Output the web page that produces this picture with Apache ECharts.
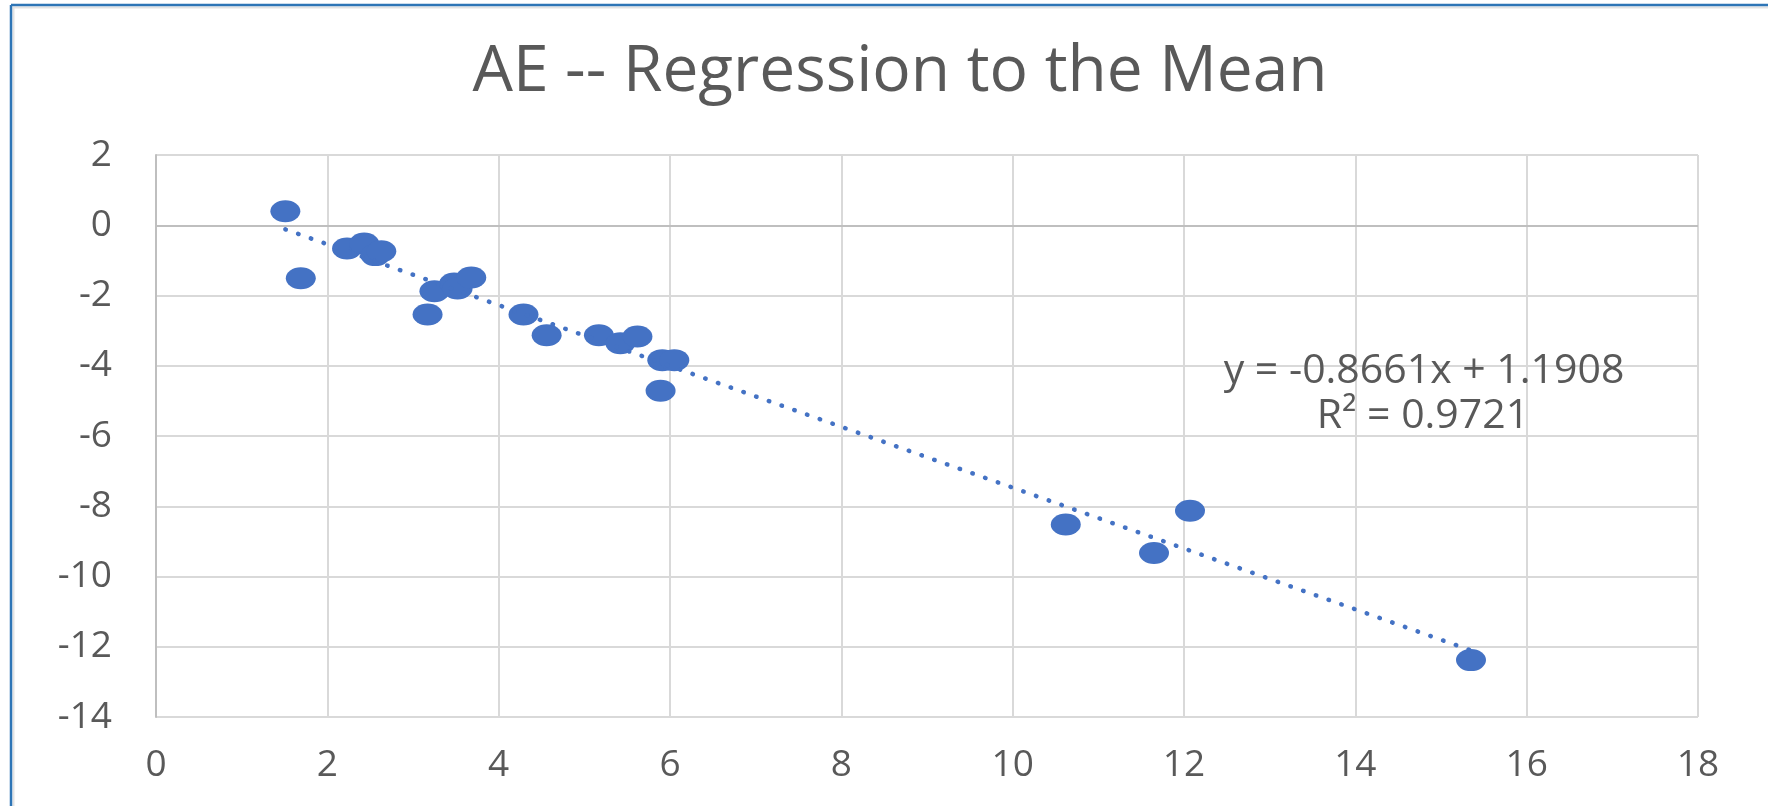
<!DOCTYPE html>
<html>
<head>
<meta charset="utf-8">
<script src="https://cdn.jsdelivr.net/npm/echarts@6/dist/echarts.min.js"></script>
<style>
html,body{margin:0;padding:0;background:#fff;}
#chart{width:1768px;height:806px;}
</style>
</head>
<body>
<div id="chart"></div>
<script>
// ---- data ----
const titleText = 'AE -- Regression to the Mean';
const xValues = [1.51, 1.69, 2.23, 2.43, 2.56, 2.63, 3.17, 3.25, 3.48, 3.52, 3.68, 4.29, 4.56, 5.17, 5.42, 5.62, 5.89, 5.91, 6.05, 10.62, 11.65, 12.07, 15.35];
const yValues = [0.40, -1.51, -0.66, -0.52, -0.85, -0.74, -2.54, -1.88, -1.66, -1.80, -1.49, -2.54, -3.13, -3.13, -3.36, -3.17, -4.71, -3.84, -3.84, -8.52, -9.33, -8.13, -12.38];
const trendSlope = -0.8661;
const trendIntercept = 1.1908;
const rSquared = 0.9721;
const xTicks = [0, 2, 4, 6, 8, 10, 12, 14, 16, 18];
const yTicks = [-14, -12, -10, -8, -6, -4, -2, 0, 2];

// ---- build ----
const points = xValues.map((x, i) => [x, yValues[i]]);
const xMin = Math.min(...xValues), xMax = Math.max(...xValues);
const trend = [[xMin, trendSlope * xMin + trendIntercept], [xMax, trendSlope * xMax + trendIntercept]];
const eqLine1 = 'y = ' + trendSlope.toFixed(4) + 'x + ' + trendIntercept.toFixed(4);
const eqLine2 = 'R² = ' + rSquared.toFixed(4);

const textColor = '#595959';
const font = '"Open Sans", "Noto Sans", sans-serif';
const blue = '#4472c4';

const chart = echarts.init(document.getElementById('chart'), null, {renderer: 'canvas'});
chart.setOption({
  backgroundColor: '#ffffff',
  animation: false,
  title: {
    text: titleText,
    left: 895,
    top: 36,
    textAlign: 'center',
    textStyle: {color: textColor, fontFamily: font, fontSize: 64, fontWeight: 'normal'}
  },
  grid: {left: 156, right: 70, top: 155, bottom: 89, containLabel: false},
  xAxis: {
    type: 'value',
    min: xTicks[0], max: xTicks[xTicks.length - 1], interval: 2,
    axisLine: {show: false, onZero: false},
    axisTick: {show: false},
    splitLine: {show: true, lineStyle: {color: '#d9d9d9', width: 2}},
    axisLabel: {color: textColor, fontFamily: font, fontSize: 37, margin: 30}
  },
  yAxis: {
    type: 'value',
    min: yTicks[0], max: yTicks[yTicks.length - 1], interval: 2,
    axisLine: {show: true, onZero: false, lineStyle: {color: '#bfbfbf', width: 2}},
    axisTick: {show: false},
    splitLine: {show: true, lineStyle: {color: '#d9d9d9', width: 2}},
    axisLabel: {color: textColor, fontFamily: font, fontSize: 37, margin: 44}
  },
  series: [
    {
      type: 'scatter',
      data: points,
      symbol: 'circle',
      symbolSize: [30, 22],
      itemStyle: {color: blue, opacity: 1},
      z: 3,
      markLine: {
        silent: true,
        symbol: 'none',
        label: {show: false},
        lineStyle: {color: '#bfbfbf', width: 2, type: 'solid'},
        data: [{yAxis: 0}],
        z: 1
      }
    },
    {
      type: 'line',
      data: trend,
      showSymbol: false,
      symbol: 'none',
      lineStyle: {color: blue, width: 4.5, type: [0.5, 13], cap: 'round'},
      z: 5
    }
  ],
  graphic: [
    {type: 'line', shape: {x1: 11, y1: 5, x2: 1768, y2: 5}, style: {stroke: '#2e75b6', lineWidth: 2.5}, z: 10},
    {type: 'line', shape: {x1: 11, y1: 5, x2: 11, y2: 806}, style: {stroke: '#2e75b6', lineWidth: 2.5}, z: 10},
    {type: 'line', shape: {x1: 13, y1: 7.5, x2: 1768, y2: 7.5}, style: {stroke: '#e3e3e3', lineWidth: 2}, z: 9},
    {type: 'line', shape: {x1: 13.5, y1: 7, x2: 13.5, y2: 806}, style: {stroke: '#e3e3e3', lineWidth: 2}, z: 9},
    {type: 'text', x: 1424, y: 371, z: 20, style: {text: eqLine1, fill: textColor, font: '41px "Open Sans", sans-serif', textAlign: 'center', textVerticalAlign: 'middle'}},
    {type: 'text', x: 1423, y: 416, z: 20, style: {text: eqLine2, fill: textColor, font: '41px "Open Sans", sans-serif', textAlign: 'center', textVerticalAlign: 'middle'}}
  ]
});
</script>
</body>
</html>
